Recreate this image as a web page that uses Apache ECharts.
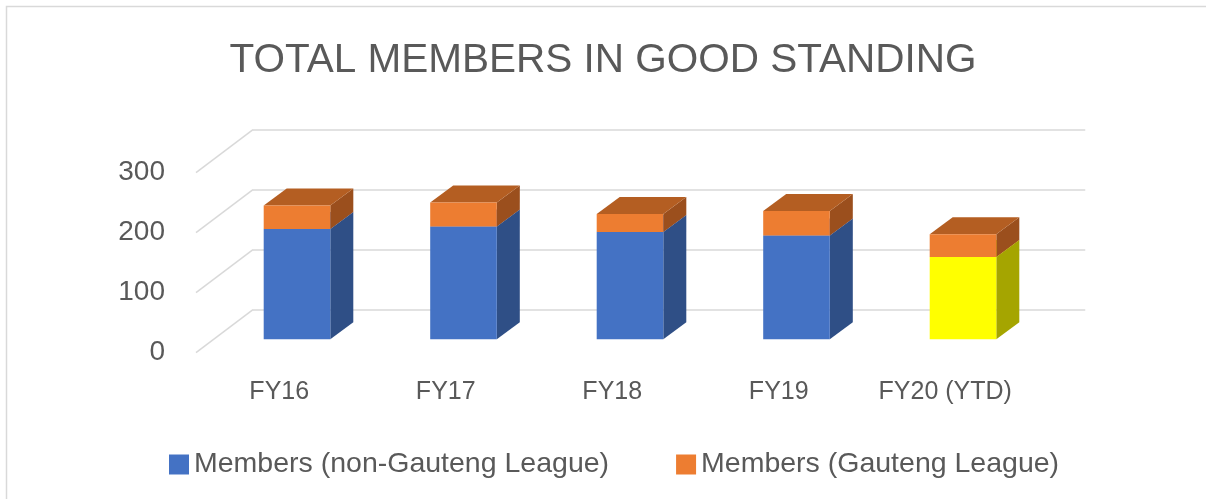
<!DOCTYPE html>
<html lang="en">
<head>
  <meta charset="UTF-8" />
  <title>total members in good standing</title>
  <script src="https://cdn.jsdelivr.net/npm/echarts@6/dist/echarts.min.js"></script>
  <style>
    html, body { margin: 0; padding: 0; background: #fff; }
    #main { width: 1206px; height: 499px; }
  </style>
</head>
<body>
  <div id="main"></div>
  <script>
    const categories = ['FY16', 'FY17', 'FY18', 'FY19', 'FY20 (YTD)'];
    const nonGauteng = [184, 188, 179, 173, 137];
    const gauteng = [39, 40, 30, 41, 38];
    const yTicks = [0, 100, 200, 300];

    // oblique 3d offsets in px
    const DEPTH = [23, -17];   // bar depth
    const WALL = [57, -43];    // front edge of floor -> back wall

    const font = 'Liberation Sans';
    const textColor = '#595959';
    const gridColor = '#D9D9D9';

    const blue = { front: '#4472C4', side: '#2F4F86', top: '#5B82C9' };
    const yellow = { front: '#FFFF00', side: '#A5A500', top: '#E0E000' };
    const orange = { front: '#ED7D31', side: '#9B4F1D', top: '#B45E22' };

    function box(pick) {
      return function (params, api) {
        const i = api.value(0);
        const lo = api.coord([i, api.value(1)]);
        const hi = api.coord([i, api.value(2)]);
        const w = api.size([1, 0])[0] * 0.4;
        const x0 = lo[0] - w / 2, x1 = lo[0] + w / 2;
        const dx = DEPTH[0], dy = DEPTH[1];
        const c = pick(params.dataIndex);
        return {
          type: 'group',
          children: [
            { type: 'polygon', shape: { points: [[x1, lo[1]], [x1 + dx, lo[1] + dy], [x1 + dx, hi[1] + dy], [x1, hi[1]]] }, style: { fill: c.side } },
            { type: 'polygon', shape: { points: [[x0, hi[1]], [x0 + dx, hi[1] + dy], [x1 + dx, hi[1] + dy], [x1, hi[1]]] }, style: { fill: c.top } },
            { type: 'rect', shape: { x: x0, y: hi[1], width: w, height: lo[1] - hi[1] }, style: { fill: c.front } }
          ]
        };
      };
    }

    const chart = echarts.init(document.getElementById('main'));

    // three grids with the same scale: 0 = bar front plane, 1 = back wall, 2 = front edge
    const gw = 832.5, gh = 180;
    const grids = [
      { left: 213.75, top: 159.3, width: gw, height: gh },
      { left: 213.75 + 39, top: 130, width: gw, height: gh },
      { left: 196, top: 172.7, width: gw, height: gh }
    ];

    const xAxes = grids.map((g, k) => ({
      type: 'category', gridIndex: k, data: categories,
      axisLine: { show: false }, axisTick: { show: false },
      axisLabel: { show: k === 2, interval: 0, fontFamily: font, fontSize: 25, color: textColor, margin: 27 }
    }));
    const yAxes = grids.map((g, k) => ({
      type: 'value', gridIndex: k, min: 0, max: 300, interval: 100,
      axisLine: { show: false }, axisTick: { show: false },
      axisLabel: { show: k === 2, fontFamily: font, fontSize: 28, color: textColor, margin: 31 },
      splitLine: { show: k === 1, lineStyle: { color: gridColor, width: 1.5 } }
    }));

    const option = {
      animation: false,
      backgroundColor: '#fff',
      title: {
        text: 'TOTAL MEMBERS IN GOOD STANDING',
        left: 'center', top: 35,
        textStyle: { fontFamily: font, fontSize: 40.5, fontWeight: 'normal', color: textColor }
      },
      legend: {
        left: 164, top: 445,
        icon: 'rect', itemWidth: 20, itemHeight: 20, itemGap: 67,
        textStyle: { fontFamily: font, fontSize: 28.5, color: textColor },
        data: ['Members (non-Gauteng League)', 'Members (Gauteng League)']
      },
      graphic: [{
        type: 'rect', silent: true,
        shape: { x: 6.5, y: 6.5, width: 1300, height: 600 },
        style: { fill: 'none', stroke: gridColor, lineWidth: 1.5 }
      }],
      grid: grids,
      xAxis: xAxes,
      yAxis: yAxes,
      series: [
        {
          // diagonal lines on the left wall
          type: 'custom', xAxisIndex: 2, yAxisIndex: 2, silent: true,
          data: yTicks.map(v => [0, v]),
          renderItem: function (params, api) {
            const p = api.coord([0, api.value(1)]);
            const left = p[0] - api.size([1, 0])[0] / 2;
            return {
              type: 'line',
              shape: { x1: left, y1: p[1], x2: left + WALL[0], y2: p[1] + WALL[1] },
              style: { stroke: gridColor, lineWidth: 1.5 }
            };
          }
        },
        {
          name: 'Members (non-Gauteng League)',
          type: 'custom', xAxisIndex: 0, yAxisIndex: 0,
          itemStyle: { color: blue.front },
          encode: { x: 0, y: [1, 2] },
          data: categories.map((c, i) => [i, 0, nonGauteng[i]]),
          renderItem: box(i => (i === categories.length - 1 ? yellow : blue))
        },
        {
          name: 'Members (Gauteng League)',
          type: 'custom', xAxisIndex: 0, yAxisIndex: 0,
          itemStyle: { color: orange.front },
          encode: { x: 0, y: [1, 2] },
          data: categories.map((c, i) => [i, nonGauteng[i], nonGauteng[i] + gauteng[i]]),
          renderItem: box(() => orange)
        }
      ]
    };

    chart.setOption(option);
  </script>
</body>
</html>
